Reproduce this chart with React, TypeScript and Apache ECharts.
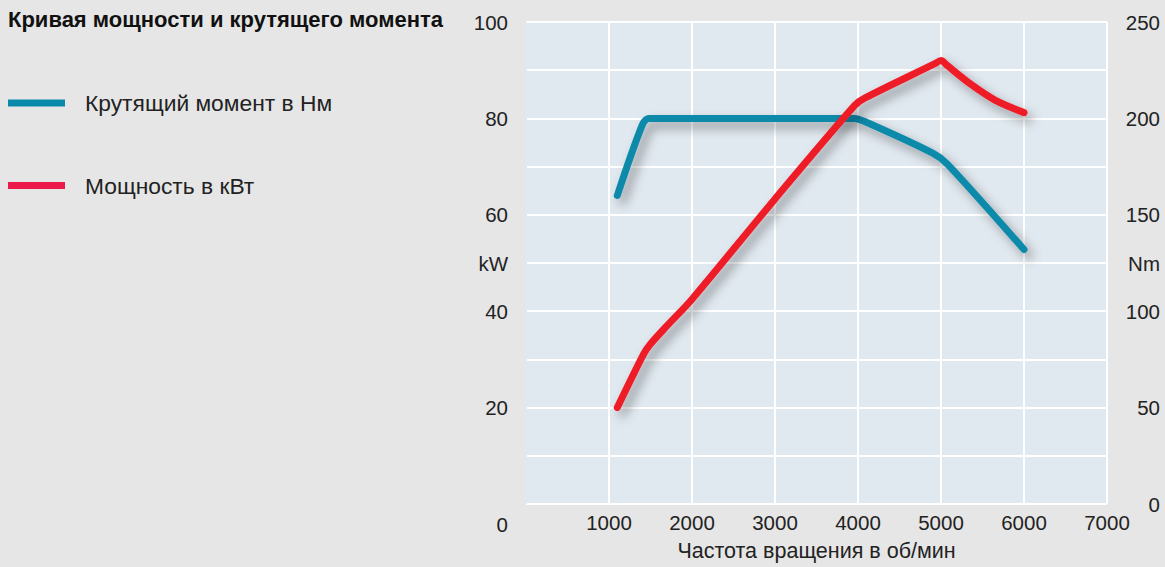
import React, { useEffect, useRef } from "react";
import * as echarts from "echarts";

const title = "Кривая мощности и крутящего момента";
const torqueName = "Крутящий момент в Нм";
const powerName = "Мощность в кВт";
const xAxisName = "Частота вращения в об/мин";

// rpm, Nm (right axis), incl. points next to its bends
const torqueRpm = [1100, 1400, 1480, 3950, 4080, 4900, 5080, 6000];
const torqueNm = [160, 196.5, 200, 200, 198.4, 182, 176.2, 132];

// rpm, kW (left axis)
const powerRpm = [1100, 1420, 1500, 1700, 2000, 3000, 3960, 4080, 4920, 5000, 5080, 5350, 5650, 6000];
const powerKw = [20, 31.2, 33.2, 37, 42.5, 63.3, 82.7, 84.2, 91.3, 92, 90.9, 87.2, 83.8, 81.2];

const leftTicks = [20, 40, 60, 80, 100];
const rightTicks = [0, 50, 100, 150, 200, 250];

const FONT = "'Liberation Sans', Arial, Helvetica, sans-serif";
const TEAL = "#0b89aa";
const RED = "#ee1c25";
const LEGEND_RED = "#ec1a4b";
const TEXT = "#222";
const TICK = 20.5;

export default function App() {
  const ref = useRef<HTMLDivElement>(null);
  useEffect(() => {
    if (!ref.current) return;
    const chart = echarts.init(ref.current, null, { renderer: "svg" });
    const shadow = {
      shadowColor: "rgba(0,0,0,0.38)",
      shadowBlur: 11,
      shadowOffsetX: 5,
      shadowOffsetY: 6,
    };
    chart.setOption({
      animation: false,
      backgroundColor: "#e6e6e6",
      textStyle: { fontFamily: FONT },
      grid: {
        left: 526,
        top: 22,
        width: 581,
        height: 483.5,
        show: true,
        backgroundColor: "#e1e9f0",
        borderWidth: 0,
      },
      graphic: [
        {
          type: "text",
          left: 8,
          top: 8,
          style: { text: title, font: `bold 22px ${FONT}`, fill: "#111" },
        },
        { type: "rect", shape: { x: 8, y: 99.5, width: 57, height: 7 }, style: { fill: TEAL } },
        {
          type: "text",
          x: 85,
          y: 103,
          style: { text: torqueName, font: `22.8px ${FONT}`, fill: TEXT, verticalAlign: "middle" },
        },
        { type: "rect", shape: { x: 8, y: 182, width: 57, height: 7 }, style: { fill: LEGEND_RED } },
        {
          type: "text",
          x: 85,
          y: 186,
          style: { text: powerName, font: `22.8px ${FONT}`, fill: TEXT, verticalAlign: "middle" },
        },
        {
          type: "text",
          x: 508,
          y: 524,
          style: { text: "0", font: `${TICK}px ${FONT}`, fill: TEXT, align: "right", verticalAlign: "middle" },
        },
      ],
      xAxis: {
        type: "value",
        min: 0,
        max: 7000,
        interval: 1000,
        name: xAxisName,
        nameLocation: "middle",
        nameGap: 47,
        nameTextStyle: { fontSize: 21.5, color: TEXT, verticalAlign: "middle" },
        axisLine: { show: false },
        axisTick: { show: false },
        axisLabel: {
          fontSize: TICK,
          color: TEXT,
          margin: 8,
          formatter: (v: number) => (v === 0 ? "" : String(v)),
        },
        splitLine: {
          show: true,
          lineStyle: {
            width: 2,
            color: ["#e1e9f0", "#fff", "#fff", "#fff", "#fff", "#fff", "#fff", "#fff"],
          },
        },
      },
      yAxis: [
        {
          type: "value",
          min: 0,
          max: 100,
          interval: 10,
          position: "left",
          axisLine: { show: false },
          axisTick: { show: false },
          axisLabel: {
            fontSize: TICK,
            color: TEXT,
            margin: 18,
            formatter: (v: number) => (v === 50 ? "kW" : leftTicks.includes(v) ? String(v) : ""),
          },
          splitLine: { show: true, lineStyle: { color: "#fff", width: 2 } },
        },
        {
          type: "value",
          min: 0,
          max: 250,
          interval: 25,
          position: "right",
          axisLine: { show: false },
          axisTick: { show: false },
          axisLabel: {
            fontSize: TICK,
            color: TEXT,
            align: "right",
            margin: 53,
            formatter: (v: number) => (v === 125 ? "Nm" : rightTicks.includes(v) ? String(v) : ""),
          },
          splitLine: { show: false },
        },
      ],
      series: [
        {
          name: powerName,
          type: "line",
          yAxisIndex: 0,
          data: powerRpm.map((r, i) => [r, powerKw[i]]),
          showSymbol: false,
          smooth: 0.3,
          lineStyle: { color: RED, width: 7, cap: "round", join: "round", ...shadow },
          z: 3,
        },
        {
          name: torqueName,
          type: "line",
          yAxisIndex: 1,
          data: torqueRpm.map((r, i) => [r, torqueNm[i]]),
          showSymbol: false,
          smooth: 0.3,
          lineStyle: { color: TEAL, width: 7, cap: "round", join: "round", ...shadow },
          z: 2,
        },
      ],
    });
    return () => chart.dispose();
  }, []);
  return <div ref={ref} style={{ width: 1165, height: 567, position: "absolute", left: 0, top: 0 }} />;
}
